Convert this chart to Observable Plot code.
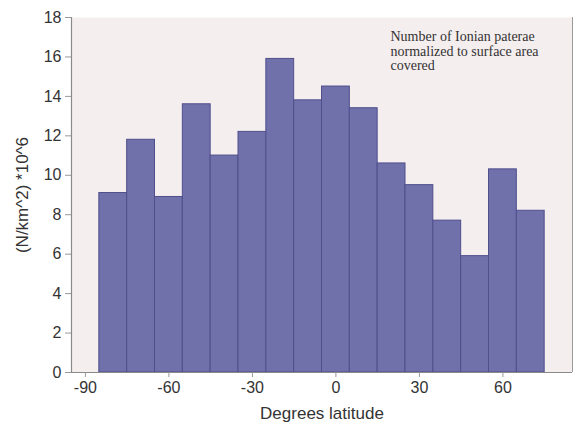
<!DOCTYPE html>
<html>
<head>
<meta charset="utf-8">
<script src="https://cdn.jsdelivr.net/npm/d3@7"></script>
<script src="https://cdn.jsdelivr.net/npm/@observablehq/plot@0.6"></script>
<style>
  html, body { margin: 0; padding: 0; background: #ffffff; }
  #chart svg { display: block; }
</style>
</head>
<body>
<div id="chart"></div>
<script>
// Bin lower edges (degrees latitude), 10-degree bins
const binStart = [-85, -75, -65, -55, -45, -35, -25, -15, -5, 5, 15, 25, 35, 45, 55, 65];
const binWidth = 10;
// Paterae density, (N/km^2)*10^6
const density = [9.1, 11.8, 8.9, 13.6, 11.0, 12.2, 15.9, 13.8, 14.5, 13.4, 10.6, 9.5, 7.7, 5.9, 10.3, 8.2];
const xTicks = [-90, -60, -30, 0, 30, 60];
const yTicks = [0, 2, 4, 6, 8, 10, 12, 14, 16, 18];
const noteLines = ["Number of Ionian paterae", "normalized to surface area", "covered"];

const bins = binStart.map((s, i) => ({x1: s, x2: s + binWidth, y: density[i]}));

const chart = Plot.plot({
  width: 577,
  height: 425,
  marginLeft: 71,
  marginRight: 5,
  marginTop: 17,
  marginBottom: 53,
  style: {fontFamily: "Liberation Sans, Arial, sans-serif", fontSize: "15px", color: "#444", background: "#ffffff"},
  x: {domain: [-95, 85], ticks: xTicks, label: null},
  y: {domain: [0, 18], ticks: yTicks, label: null},
  marks: [
    Plot.frame({fill: "#f5eeee", stroke: null}),
    Plot.rectY(bins, {x1: "x1", x2: "x2", y: "y", fill: "#7070ab", stroke: "#4f4f8c", strokeWidth: 1}),
    Plot.ruleX([-95], {stroke: "#8a8a8a", strokeWidth: 1.2}),
    Plot.ruleX([85], {stroke: "#9a9a9a", strokeWidth: 1}),
    Plot.ruleY([0], {stroke: "#8a8a8a", strokeWidth: 1.2}),
    Plot.axisX({ticks: xTicks, tickFormat: d => String(d), tickSize: 5, tickPadding: 4, stroke: "#999", fill: "#333", fontSize: 16, label: null}),
    Plot.axisX({ticks: [], label: "Degrees latitude", labelAnchor: "center", labelArrow: "none", labelOffset: 46, fill: "#333", fontSize: 17}),
    Plot.axisY({ticks: yTicks, tickFormat: d => String(d), tickSize: 6, tickPadding: 4, stroke: "#999", fill: "#333", fontSize: 16, label: null}),
    Plot.axisY({ticks: [], label: "(N/km^2) *10^6", labelAnchor: "center", labelArrow: "none", labelOffset: 56, fill: "#333", fontSize: 17}),
    Plot.text([noteLines.join("\n")], {frameAnchor: "top-left", dx: 319, dy: 13, textAnchor: "start", lineAnchor: "top", fontFamily: "Liberation Serif, Times New Roman, serif", fontSize: 14, fill: "#333", lineHeight: 1.05})
  ]
});
document.getElementById("chart").appendChild(chart);
</script>
</body>
</html>
